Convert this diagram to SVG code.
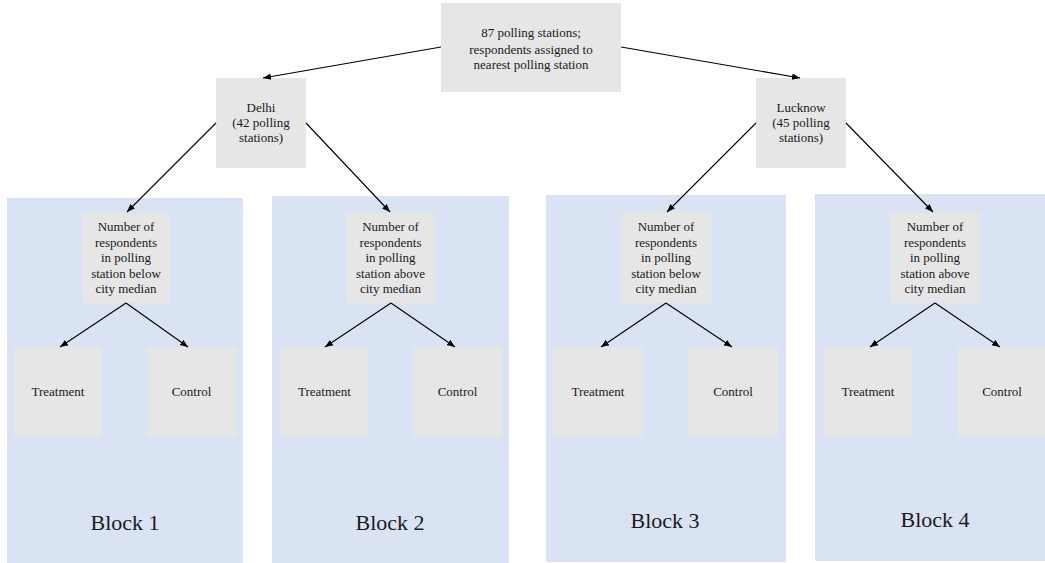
<svg xmlns="http://www.w3.org/2000/svg" width="1045" height="563" viewBox="0 0 1045 563">
<style>
.blk{fill:#dae3f3}
.nd{fill:#e7e6e6}
text{font-family:"Liberation Serif","Times New Roman",serif;fill:#1a1a1a;text-anchor:middle}
.t{font-size:13px}
.bl{font-size:22px}
.c{stroke:#000;stroke-width:1.1;fill:none;marker-end:url(#ah)}
</style>
<defs>
<marker id="ah" viewBox="0 0 10 10" refX="10" refY="5" markerWidth="8" markerHeight="8" markerUnits="userSpaceOnUse" orient="auto">
<path d="M0,1 L10,5 L0,9 z" fill="#000"/>
</marker>
</defs>
<rect width="1045" height="563" fill="#fff"/>
<g id="block1"><rect class="blk" x="7" y="198" width="236" height="365"/><text class="bl" x="125" y="530">Block 1</text></g>
<g id="block2"><rect class="blk" x="272" y="196" width="237" height="367"/><text class="bl" x="390" y="530">Block 2</text></g>
<g id="block3"><rect class="blk" x="546" y="195" width="240" height="367"/><text class="bl" x="665" y="528">Block 3</text></g>
<g id="block4"><rect class="blk" x="815" y="194" width="230" height="367"/><text class="bl" x="935" y="527">Block 4</text></g>

<g id="root"><rect class="nd" x="441" y="3" width="180" height="89"/>
<text class="t" x="531" y="37">87 polling stations;</text>
<text class="t" x="531" y="54">respondents assigned to</text>
<text class="t" x="531" y="69">nearest polling station</text></g>

<g id="delhi"><rect class="nd" x="216" y="78" width="90" height="90"/>
<text class="t" x="261" y="112">Delhi</text>
<text class="t" x="261" y="127">(42 polling</text>
<text class="t" x="261" y="142">stations)</text></g>

<g id="lucknow"><rect class="nd" x="756" y="78" width="90" height="90"/>
<text class="t" x="801" y="112">Lucknow</text>
<text class="t" x="801" y="127">(45 polling</text>
<text class="t" x="801" y="142">stations)</text></g>

<g id="q1"><rect class="nd" x="82" y="213" width="88" height="90"/>
<text class="t" x="126" y="231">Number of</text><text class="t" x="126" y="247">respondents</text><text class="t" x="126" y="262">in polling</text><text class="t" x="126" y="278">station below</text><text class="t" x="126" y="293">city median</text></g>
<g id="q2"><rect class="nd" x="346" y="213" width="89" height="90"/>
<text class="t" x="390.5" y="231">Number of</text><text class="t" x="390.5" y="247">respondents</text><text class="t" x="390.5" y="262">in polling</text><text class="t" x="390.5" y="278">station above</text><text class="t" x="390.5" y="293">city median</text></g>
<g id="q3"><rect class="nd" x="621" y="213" width="90" height="90"/>
<text class="t" x="666" y="231">Number of</text><text class="t" x="666" y="247">respondents</text><text class="t" x="666" y="262">in polling</text><text class="t" x="666" y="278">station below</text><text class="t" x="666" y="293">city median</text></g>
<g id="q4"><rect class="nd" x="890" y="213" width="90" height="90"/>
<text class="t" x="935" y="231">Number of</text><text class="t" x="935" y="247">respondents</text><text class="t" x="935" y="262">in polling</text><text class="t" x="935" y="278">station above</text><text class="t" x="935" y="293">city median</text></g>

<g id="t1"><rect class="nd" x="14" y="347" width="88" height="90"/><text class="t" x="58" y="396">Treatment</text></g>
<g id="c1"><rect class="nd" x="147" y="347" width="89" height="90"/><text class="t" x="191.5" y="396">Control</text></g>
<g id="t2"><rect class="nd" x="280" y="347" width="89" height="90"/><text class="t" x="324.5" y="396">Treatment</text></g>
<g id="c2"><rect class="nd" x="413" y="347" width="89" height="90"/><text class="t" x="457.5" y="396">Control</text></g>
<g id="t3"><rect class="nd" x="553" y="347" width="90" height="90"/><text class="t" x="598" y="396">Treatment</text></g>
<g id="c3"><rect class="nd" x="688" y="347" width="90" height="90"/><text class="t" x="733" y="396">Control</text></g>
<g id="t4"><rect class="nd" x="823" y="347" width="90" height="90"/><text class="t" x="868" y="396">Treatment</text></g>
<g id="c4"><rect class="nd" x="958" y="347" width="87" height="90"/><text class="t" x="1002" y="396">Control</text></g>

<g id="connectors">
<path class="c" d="M441,47 L263,78"/>
<path class="c" d="M621,47 L800,78"/>
<path class="c" d="M216,123 L127,212"/>
<path class="c" d="M306,123 L390,212"/>
<path class="c" d="M756,123 L667,212"/>
<path class="c" d="M846,123 L933,212"/>
<path class="c" d="M126,303 L60,347"/>
<path class="c" d="M126,303 L188,347"/>
<path class="c" d="M391,303 L325,347"/>
<path class="c" d="M391,303 L455,347"/>
<path class="c" d="M666,303 L601,347"/>
<path class="c" d="M666,303 L732,347"/>
<path class="c" d="M935,303 L870,347"/>
<path class="c" d="M935,303 L1000,347"/>
</g>
</svg>
